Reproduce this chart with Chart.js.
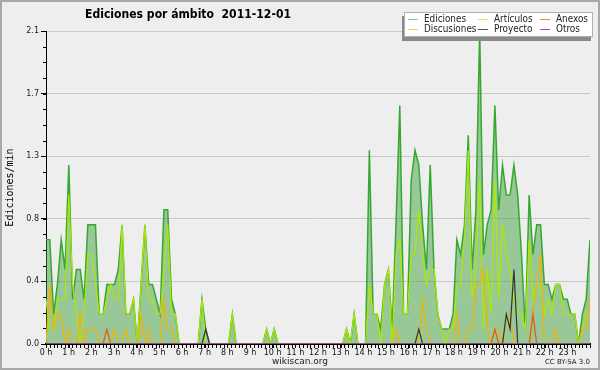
<!DOCTYPE html>
<html>
<head>
<meta charset="utf-8">
<script src="https://cdn.jsdelivr.net/npm/chart.js@4.4.0/dist/chart.umd.min.js"></script>
<style>
  html, body { margin: 0; padding: 0; background: #eeeeee; }
  canvas { display: block; }
</style>
</head>
<body>
<canvas id="chart" width="600" height="370"></canvas>
<script>
// ediciones por minuto, tramos de 10 minutos (6 por hora)
const ediciones = [
  0.7,0.7,0.2,0.4,0.7,0.5, 1.2,0.3,0.5,0.5,0.3,0.8,
  0.8,0.8,0.2,0.2,0.4,0.4, 0.4,0.5,0.8,0.2,0.2,0.3,
  0,0.4,0.8,0.4,0.4,0.3, 0.2,0.9,0.9,0.3,0.2,0,
  0,0,0,0,0,0.3, 0.1,0,0,0,0,0,
  0,0.2,0,0,0,0, 0,0,0,0,0.1,0,
  0.1,0,0,0,0,0, 0,0,0,0,0,0,
  0,0,0,0,0,0, 0,0.1,0,0.2,0,0,
  0,1.3,0.2,0.2,0.1,0.4, 0.5,0.1,0.8,1.6,0.2,0.2,
  1.1,1.3,1.2,0.8,0.5,1.2, 0.5,0.2,0.1,0.1,0.1,0.2,
  0.7,0.6,0.8,1.4,0.5,0.9, 2.1,0.6,0.8,0.9,1.6,0.9,
  1.2,1.0,1.0,1.2,1.0,0.6, 0.1,1.0,0.6,0.8,0.8,0.4,
  0.4,0.3,0.4,0.4,0.3,0.3, 0.2,0.2,0,0.2,0.3,0.7
];
const articulos = [
  0.3,0.1,0.1,0.3,0.3,0.3, 1.0,0.4,0.2,0,0.2,0.6,
  0.6,0.4,0.2,0.2,0.3,0.4, 0.3,0.3,0.8,0.2,0.2,0.3,
  0,0.4,0.8,0.3,0.3,0.2, 0.2,0.5,0.8,0.2,0.2,0,
  0,0,0,0,0,0.3, 0,0,0,0,0,0,
  0,0.2,0,0,0,0, 0,0,0,0,0.1,0,
  0.1,0,0,0,0,0, 0,0,0,0,0,0,
  0,0,0,0,0,0, 0,0.1,0,0.2,0,0,
  0,0.4,0.2,0.2,0,0.4, 0.5,0,0.6,0.7,0.2,0.2,
  0.6,0.6,0.9,0.6,0.4,0.5, 0.5,0.2,0.1,0,0.1,0.1,
  0.4,0.4,0.7,1.3,0.3,0.5, 1.1,0.1,0.5,0.2,1.1,0.3,
  0.8,0.6,0.5,0.3,0.2,0.2, 0.1,0.7,0.3,0.4,0.4,0.2,
  0.3,0.2,0.4,0.4,0.2,0.2, 0.2,0.2,0,0.1,0.2,0.2
];
const discusiones = [
  0,0.4,0.1,0.2,0.2,0, 0.1,0,0,0.2,0,0.1,
  0.1,0.1,0,0,0,0, 0.1,0,0,0.1,0,0,
  0,0.2,0,0.1,0,0, 0,0.3,0.1,0.1,0,0,
  0,0,0,0,0,0, 0,0,0,0,0,0,
  0,0,0,0,0,0, 0,0,0,0,0,0,
  0,0,0,0,0,0, 0,0,0,0,0,0,
  0,0,0,0,0,0, 0,0,0,0,0,0,
  0,0,0,0,0,0, 0,0,0.1,0,0,0,
  0,0,0,0.3,0.1,0, 0,0,0,0,0,0,
  0.2,0,0,0.1,0.1,0.4, 0.4,0.5,0.1,0,0.1,0.1,
  0,0.2,0.2,0,0,0, 0,0,0.2,0.4,0.6,0,
  0,0,0.1,0,0,0, 0,0,0,0.1,0.1,0.3
];
const anexos = [
  0,0,0,0,0,0, 0,0,0,0,0,0,
  0,0,0,0,0.1,0, 0,0,0,0,0,0,
  0,0,0,0,0,0, 0,0,0,0,0,0,
  0,0,0,0,0,0, 0,0,0,0,0,0,
  0,0,0,0,0,0, 0,0,0,0,0,0,
  0,0,0,0,0,0, 0,0,0,0,0,0,
  0,0,0,0,0,0, 0,0,0,0,0,0,
  0,0,0,0,0,0, 0,0,0,0,0,0,
  0,0,0,0,0,0, 0,0,0,0,0,0,
  0,0,0,0,0,0, 0,0,0,0,0.1,0,
  0,0,0,0,0,0, 0,0,0.2,0,0,0,
  0,0,0,0,0,0, 0,0,0,0,0,0
];
const proyecto = [
  0,0,0,0,0,0, 0,0,0,0,0,0,
  0,0,0,0,0,0, 0,0,0,0,0,0,
  0,0,0,0,0,0, 0,0,0,0,0,0,
  0,0,0,0,0,0, 0.1,0,0,0,0,0,
  0,0,0,0,0,0, 0,0,0,0,0,0,
  0,0,0,0,0,0, 0,0,0,0,0,0,
  0,0,0,0,0,0, 0,0,0,0,0,0,
  0,0,0,0,0,0, 0,0,0,0,0,0,
  0,0,0.1,0,0,0, 0,0,0,0,0,0,
  0,0,0,0,0,0, 0,0,0,0,0,0,
  0,0.2,0.1,0.5,0,0, 0,0,0,0,0,0,
  0,0,0,0,0,0, 0,0,0,0,0,0
];
const otros = [
  0,0,0,0,0,0, 0,0,0,0,0,0,
  0,0,0,0,0,0, 0,0,0,0,0,0,
  0,0,0,0,0,0, 0,0,0,0,0,0,
  0,0,0,0,0,0, 0,0,0,0,0,0,
  0,0,0,0,0,0, 0,0,0,0,0,0,
  0,0,0,0,0,0, 0,0,0,0,0,0,
  0,0,0,0,0,0, 0,0,0,0,0,0,
  0,0,0,0,0,0, 0,0,0,0,0,0,
  0,0,0,0,0,0, 0,0,0,0,0,0,
  0,0,0,0,0,0, 0,0,0,0,0,0,
  0,0,0,0,0,0, 0,0,0,0,0,0,
  0,0,0,0,0,0, 0,0,0,0,0,0
];

const hourLabels = ['0 h','1 h','2 h','3 h','4 h','5 h','6 h','7 h','8 h','9 h','10 h','11 h',
  '12 h','13 h','14 h','15 h','16 h','17 h','18 h','19 h','20 h','21 h','22 h','23 h'];
const yTicks = [0, 0.42, 0.84, 1.26, 1.68, 2.1];

// los puntos cubren todo el dia, de 0 h a 24 h
function toPoints(values) {
  return values.map((v, i) => ({ x: i * 24 / (values.length - 1), y: v }));
}

const FONT = 'DejaVu Sans';

// texto estrechado a un ancho dado
function fitText(ctx, text, x, y, width) {
  const w = ctx.measureText(text).width;
  const k = Math.min(1, width / w);
  ctx.save();
  ctx.translate(x, y);
  ctx.scale(k, 1);
  ctx.fillText(text, 0, 0);
  ctx.restore();
  return k;
}

const decor = {
  id: 'decor',
  beforeDraw(chart) {
    const ctx = chart.ctx;
    ctx.save();
    ctx.fillStyle = '#eeeeee';
    ctx.fillRect(0, 0, chart.width, chart.height);
    ctx.strokeStyle = '#a8a8a8';
    ctx.lineWidth = 2;
    ctx.strokeRect(1, 1, chart.width - 2, chart.height - 2);
    ctx.restore();
  },
  afterDraw(chart) {
    const ctx = chart.ctx;
    const xs = chart.scales.x, ys = chart.scales.y;
    const a = chart.chartArea;
    ctx.save();

    // marcas menores
    ctx.strokeStyle = '#000';
    ctx.lineWidth = 1;
    ctx.beginPath();
    for (let k = 0; k <= 144; k++) {
      const px = Math.round(xs.getPixelForValue(k / 6)) + 0.5;
      ctx.moveTo(px, a.bottom);
      ctx.lineTo(px, a.bottom + 4);
    }
    for (let k = 0; k <= 20; k++) {
      const py = Math.round(ys.getPixelForValue(k * 0.105)) + 0.5;
      ctx.moveTo(a.left - 3, py);
      ctx.lineTo(a.left, py);
    }
    ctx.stroke();

    // titulo
    ctx.fillStyle = '#000';
    ctx.font = 'bold 13px ' + FONT;
    ctx.textBaseline = 'middle';
    ctx.textAlign = 'left';
    fitText(ctx, 'Ediciones por ámbito  2011-12-01', 85, 15, 206);

    // pie
    ctx.font = '9px ' + FONT;
    ctx.textAlign = 'center';
    ctx.fillStyle = '#222';
    ctx.fillText('wikiscan.org', 300, 362);
    ctx.font = '7px ' + FONT;
    ctx.textAlign = 'right';
    ctx.fillText('CC BY-SA 3.0', 590, 362);

    // leyenda
    const bx = 404, by = 12, bw = 189, bh = 25;
    ctx.fillStyle = '#8a8a8a';
    ctx.fillRect(bx - 2, by + 4, bw, bh);
    ctx.fillStyle = '#ffffff';
    ctx.fillRect(bx, by, bw, bh);
    ctx.strokeStyle = '#b0b0b0';
    ctx.strokeRect(bx + 0.5, by + 0.5, bw - 1, bh - 1);
    const cols = [408, 478, 540];
    const rows = [19, 29];
    ctx.font = '10px ' + FONT;
    ctx.textAlign = 'left';
    const k = 42 / ctx.measureText('Ediciones').width;
    chart.data.datasets.forEach((ds, i) => {
      const cx = cols[i % 3], cy = rows[Math.floor(i / 3)];
      ctx.strokeStyle = ds.legendColor;
      ctx.beginPath();
      ctx.moveTo(cx, cy + 0.5);
      ctx.lineTo(cx + 10, cy + 0.5);
      ctx.stroke();
      ctx.fillStyle = '#222';
      const w = ctx.measureText(ds.label).width * k;
      fitText(ctx, ds.label, cx + 16, cy, w);
    });
    ctx.restore();
  }
};

new Chart(document.getElementById('chart'), {
  type: 'line',
  data: {
    datasets: [
      { label: 'Ediciones', data: toPoints(ediciones), borderColor: '#36a832', legendColor: '#7fcf7f',
        backgroundColor: 'rgba(56,156,56,0.47)', fill: 'origin', borderWidth: 1.5, order: 5 },
      { label: 'Artículos', data: toPoints(articulos), borderColor: '#aee800', legendColor: '#c8f060',
        fill: false, borderWidth: 1.2, order: 4 },
      { label: 'Anexos', data: toPoints(anexos), borderColor: '#ee5511', legendColor: '#f08050',
        fill: false, borderWidth: 1.2, order: 2 },
      { label: 'Discusiones', data: toPoints(discusiones), borderColor: '#f2b400', legendColor: '#f5d050',
        fill: false, borderWidth: 1.2, order: 3 },
      { label: 'Proyecto', data: toPoints(proyecto), borderColor: '#333333', legendColor: '#555555',
        fill: false, borderWidth: 1.2, order: 1 },
      { label: 'Otros', data: toPoints(otros), borderColor: '#9a4de0', legendColor: '#9a4de0',
        fill: false, borderWidth: 1.2, order: 0 }
    ]
  },
  options: {
    responsive: false,
    animation: false,
    devicePixelRatio: 1,
    layout: { padding: { top: 31, right: 10, left: 0, bottom: 0 } },
    elements: { point: { radius: 0 }, line: { tension: 0 } },
    plugins: { legend: { display: false }, tooltip: { enabled: false } },
    scales: {
      x: {
        type: 'linear', min: 0, max: 24, z: 1,
        afterBuildTicks: s => { s.ticks = hourLabels.map((t, h) => ({ value: h })).concat([{ value: 24 }]); },
        afterFit: s => { s.height = 26; },
        ticks: {
          callback: v => hourLabels[v] || '',
          autoSkip: false, maxRotation: 0, padding: 0,
          font: { family: FONT, size: 8 }, color: '#111'
        },
        grid: { drawOnChartArea: false, tickLength: 4, color: '#000' },
        border: { color: '#000', width: 2 }
      },
      y: {
        min: 0, max: 2.1,
        afterBuildTicks: s => { s.ticks = yTicks.map(v => ({ value: v })); },
        afterFit: s => { s.width = 46; },
        ticks: {
          callback: v => v.toFixed(1),
          padding: 2,
          font: { family: FONT, size: 8 }, color: '#222'
        },
        grid: { color: '#c8c8c8', tickColor: '#000', tickLength: 5 },
        border: { color: '#000', width: 1 },
        title: {
          display: true, text: 'Ediciones/min', color: '#000',
          font: { family: 'DejaVu Sans Mono', size: 10 },
          padding: { top: 4, bottom: 0 }
        }
      }
    }
  },
  plugins: [decor]
});
</script>
</body>
</html>
